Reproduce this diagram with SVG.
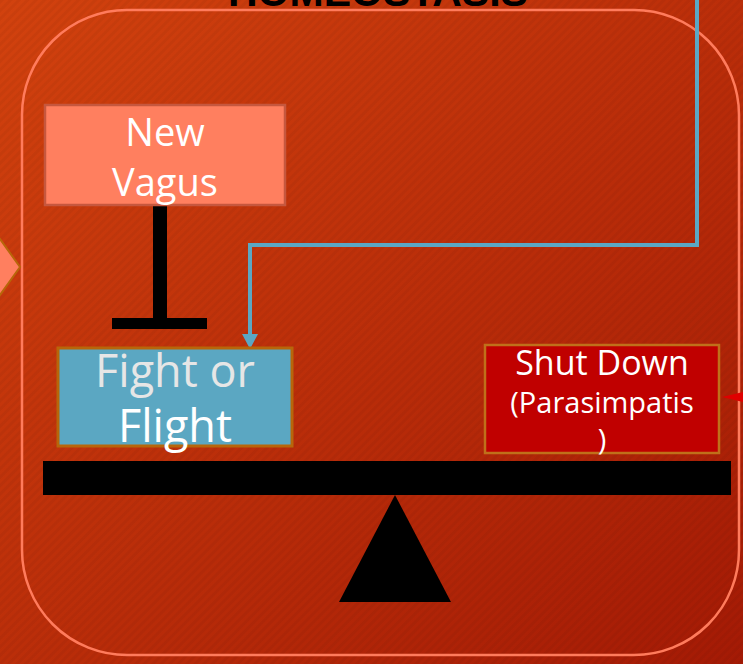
<svg xmlns="http://www.w3.org/2000/svg" width="743" height="664" viewBox="0 0 743 664">
<defs>
<linearGradient id="bg" x1="0" y1="0" x2="1" y2="1">
<stop offset="0" stop-color="#D2420E"/>
<stop offset="1" stop-color="#A41A05"/>
</linearGradient>
<pattern id="stripes" width="6" height="6" patternUnits="userSpaceOnUse" patternTransform="rotate(45)">
<rect width="3" height="6" fill="#000" fill-opacity="0.04"/>
</pattern>
<style>
.nodeText{font-family:"Open Sans","Liberation Sans",sans-serif;fill:#fff;text-anchor:middle}
</style>
</defs>
<rect width="743" height="664" fill="url(#bg)"/>
<rect width="743" height="664" fill="url(#stripes)"/>
<text x="228" y="6" font-family="Liberation Sans, sans-serif" font-weight="bold" font-size="41" fill="#000">HOMEOSTASIS</text>
<rect x="22" y="10" width="717" height="645" rx="105" ry="105" fill="none" stroke="#FF7B5C" stroke-width="2.5"/>
<g id="left-chevron">
<path d="M-10,232 L-5,232 L20,267 L-5,302 L-10,302 Z" fill="#FF7F5F" stroke="#B8660A" stroke-width="2"/>
</g>
<g id="connectors">
<path d="M697,0 L697,245 L250,245 L250,336" fill="none" stroke="#5BA7C4" stroke-width="4"/>
<path d="M242,334 L258,334 L250,349 Z" fill="#5BA7C4"/>
<path d="M160,205 L160,320" stroke="#000" stroke-width="14"/>
<rect x="112" y="318" width="95" height="11" fill="#000"/>
<path d="M743,392 L743,402 L722,397 Z" fill="#E00000"/>
</g>
<g id="new-vagus">
<rect x="45" y="105" width="240" height="100" fill="#FF7F5F" stroke="#C6573E" stroke-width="2.5"/>
<text class="nodeText" x="165" y="146" font-size="38">New</text>
<text class="nodeText" x="165" y="196" font-size="38">Vagus</text>
</g>
<g id="fight-or-flight">
<rect x="58" y="348" width="234" height="98" fill="#5BA7C2" stroke="#B8660A" stroke-width="3"/>
<text class="nodeText" x="175" y="387" font-size="45" style="fill:#E6E6E6">Fight or</text>
<text class="nodeText" x="175" y="442" font-size="45">Flight</text>
</g>
<g id="shut-down">
<rect x="485" y="345" width="234" height="108" fill="#C00000" stroke="#C0701A" stroke-width="2.5"/>
<text class="nodeText" x="602" y="375" font-size="34">Shut Down</text>
<text class="nodeText" x="602" y="413" font-size="29">(Parasimpatis</text>
<text class="nodeText" x="602" y="450" font-size="29">)</text>
</g>
<g id="seesaw">
<rect x="43" y="461" width="688" height="34" fill="#000"/>
<path d="M395,495 L451,602 L339,602 Z" fill="#000"/>
</g>
</svg>
